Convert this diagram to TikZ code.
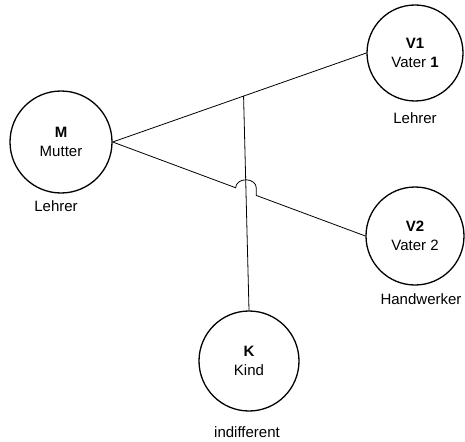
\documentclass[tikz,border=0pt]{standalone}
\usepackage{fontspec}
\setmainfont{Liberation Sans}
\usetikzlibrary{calc,intersections}
\newcommand{\persfont}{\fontsize{15}{18.5}\selectfont}

\begin{document}
\begin{tikzpicture}[x=1pt,y=1pt,
  person/.style={circle,draw,line width=1.3pt,inner sep=0pt,align=center,font=\persfont},
  tag/.style={font=\persfont},
  link/.style={line width=0.8pt}]
 \useasboundingbox (0,0) rectangle (465,-441);

 \node[person,minimum size=102pt] (M) at (61,-142) {\textbf{M}\\Mutter};
 \node[person,minimum size=96pt] (V1) at (415,-53) {\textbf{V1}\\Vater \textbf{1}};
 \node[person,minimum size=98pt] (V2) at (415,-236) {\textbf{V2}\\Vater 2};
 \node[person,minimum size=100pt] (K) at (249,-361) {\textbf{K}\\Kind};

 \node[tag] (tM) at (56,-206) {Lehrer};
 \node[tag] (tV1) at (415,-118) {Lehrer};
 \node[tag] (tV2) at (421,-299) {Handwerker};
 \node[tag] (tK) at (247,-432) {indifferent};

 \coordinate (top) at ($(M.east)!0.516!(V1.west)$);
 \draw[link] (M.east) -- (V1.west);
 \draw[link,name path=kt] (K.north) -- (top);
 \path[name path=mv] (M.east) -- (V2.west);
 \path[name intersections={of=mv and kt,by=hop}];
 % line jump over the vertical line
 \draw[link] (M.east) -- ($(hop)!11pt!(M.east)$)
   arc[start angle=180,end angle=0,x radius=10.3pt,y radius=8pt]
   -- ($(hop)!11pt!(V2.west)$) -- (V2.west);

\end{tikzpicture}
\end{document}
